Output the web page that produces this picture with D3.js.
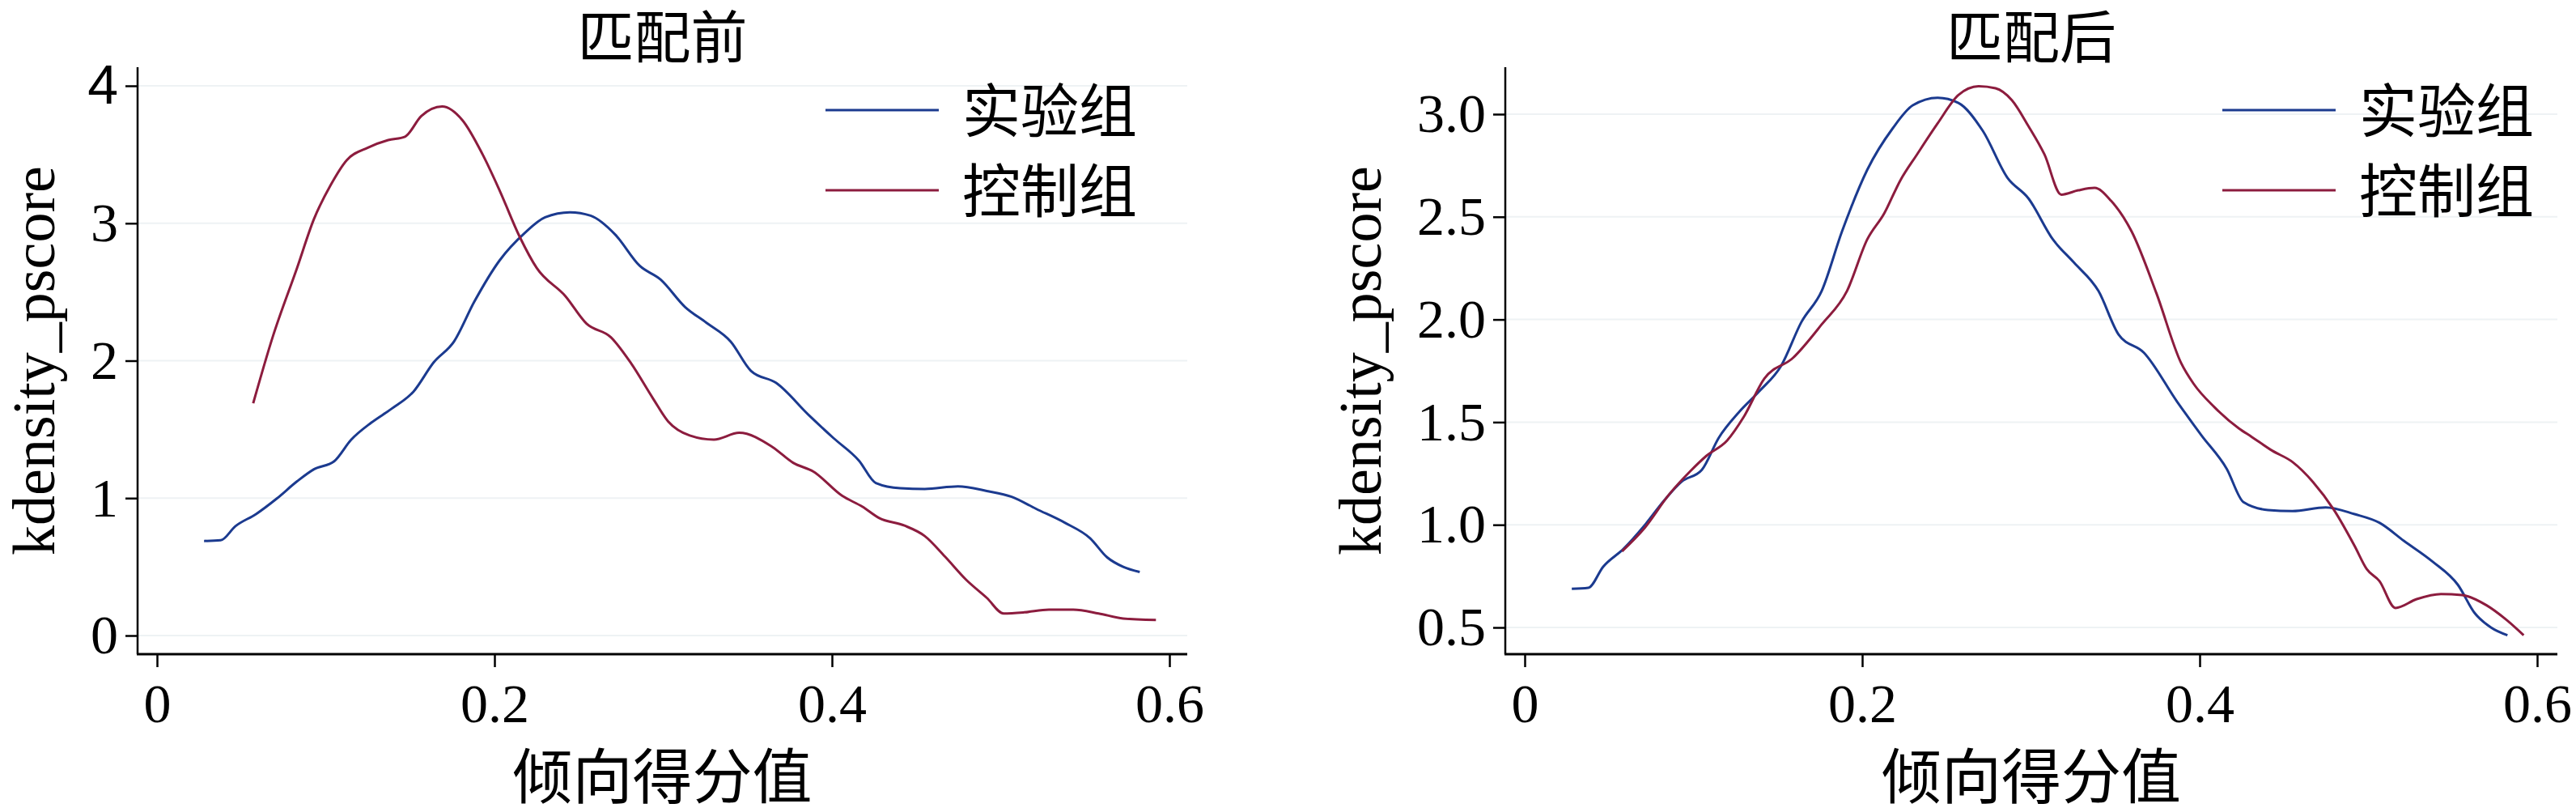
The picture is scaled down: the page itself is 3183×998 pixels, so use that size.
<!DOCTYPE html>
<html>
<head>
<meta charset="utf-8">
<script src="https://cdn.jsdelivr.net/npm/d3@7"></script>
<style>
  body { margin: 0; background: #fff; }
  svg { display: block; }
</style>
</head>
<body>
<svg id="chart" width="3183" height="998"></svg>
<script>
// treatment group density (same curve in both panels)
var treatX = [0.0279, 0.0377, 0.0465, 0.0587, 0.071, 0.083, 0.093, 0.105, 0.115, 0.127, 0.139, 0.152, 0.164, 0.176, 0.188, 0.203, 0.218, 0.230, 0.2447, 0.257, 0.2716, 0.286, 0.2985, 0.313, 0.3255, 0.340, 0.352, 0.367, 0.3866, 0.401, 0.416, 0.426, 0.4405, 0.455, 0.4747, 0.4918, 0.5065, 0.521, 0.538, 0.553, 0.563, 0.5726, 0.5824];
var treatY = [0.688, 0.693, 0.796, 0.884, 0.997, 1.122, 1.21, 1.268, 1.424, 1.549, 1.65, 1.775, 1.988, 2.139, 2.428, 2.729, 2.93, 3.043, 3.08, 3.055, 2.917, 2.691, 2.59, 2.39, 2.277, 2.139, 1.926, 1.838, 1.60, 1.436, 1.273, 1.11, 1.072, 1.067, 1.085, 1.052, 1.01, 0.922, 0.821, 0.708, 0.57, 0.50, 0.462];

// control group before matching
var ctrlBeforeX = [0.057, 0.0685, 0.083, 0.093, 0.103, 0.1125, 0.125, 0.137, 0.147, 0.1566, 0.169, 0.181, 0.193, 0.203, 0.215, 0.225, 0.242, 0.2545, 0.269, 0.281, 0.2937, 0.303, 0.3157, 0.330, 0.345, 0.3646, 0.377, 0.389, 0.406, 0.418, 0.428, 0.443, 0.455, 0.467, 0.4796, 0.4918, 0.5017, 0.514, 0.5286, 0.543, 0.558, 0.5726, 0.592];
var ctrlBeforeY = [1.69, 2.17, 2.675, 3.03, 3.28, 3.46, 3.55, 3.605, 3.63, 3.78, 3.85, 3.75, 3.50, 3.24, 2.90, 2.675, 2.47, 2.27, 2.17, 1.98, 1.73, 1.557, 1.456, 1.426, 1.475, 1.373, 1.257, 1.193, 1.017, 0.938, 0.855, 0.80, 0.724, 0.574, 0.405, 0.274, 0.161, 0.169, 0.188, 0.188, 0.161, 0.124, 0.113];

// control group after matching
var ctrlAfterX = [0.0577, 0.071, 0.0856, 0.098, 0.1077, 0.12, 0.1297, 0.142, 0.159, 0.176, 0.191, 0.203, 0.213, 0.2227, 0.2325, 0.2447, 0.257, 0.269, 0.279, 0.2887, 0.2985, 0.308, 0.318, 0.328, 0.3377, 0.3475, 0.3597, 0.3744, 0.389, 0.3964, 0.4086, 0.4233, 0.4307, 0.443, 0.455, 0.467, 0.4796, 0.4918, 0.499, 0.5065, 0.516, 0.5286, 0.543, 0.5555, 0.570, 0.5824, 0.592];
var ctrlAfterY = [0.871, 0.984, 1.148, 1.26, 1.336, 1.411, 1.524, 1.712, 1.813, 1.976, 2.139, 2.39, 2.516, 2.679, 2.804, 2.955, 3.093, 3.136, 3.126, 3.068, 2.942, 2.804, 2.608, 2.629, 2.641, 2.578, 2.428, 2.127, 1.788, 1.687, 1.574, 1.469, 1.429, 1.361, 1.306, 1.21, 1.072, 0.897, 0.784, 0.726, 0.595, 0.638, 0.663, 0.658, 0.608, 0.533, 0.462];

var xTicks = [0, 0.2, 0.4, 0.6];
var beforeYTicks = [0, 1, 2, 3, 4];
var afterYTicks = [0.5, 1.0, 1.5, 2.0, 2.5, 3.0];
var titles = ['匹配前', '匹配后'];
var groupNames = ['实验组', '控制组'];
var xTitle = '倾向得分值';
var yTitle = 'kdensity_pscore';

var colors = ['#1b3a8f', '#8c1c3e'];
var serif = "'Liberation Serif', 'Times New Roman', serif";
var cjk = "'Noto Sans CJK SC', sans-serif";

function pairs(xs, ys) {
    return xs.map(function(d, i) { return [d, ys[i]]; });
}

var svg = d3.select('#chart');

function panel(opt) {
    var g = svg.append('g');
    var left = opt.left, right = opt.right, top = 83, bottom = 808;

    var x = d3.scaleLinear().domain([0, 0.6]).range([opt.x0, opt.x1]);
    var y = d3.scaleLinear().domain(opt.yDomain).range(opt.yRange);

    // faint gridlines
    g.selectAll('.grid')
        .data(opt.yTicks)
        .enter()
        .append('line')
            .attr('x1', left).attr('x2', right)
            .attr('y1', function(d) { return y(d); })
            .attr('y2', function(d) { return y(d); })
            .attr('stroke', '#eef2f4')
            .attr('stroke-width', 2);

    // y axis
    var yAxis = g.append('g')
        .attr('transform', 'translate(' + left + ',0)')
        .call(d3.axisLeft(y).tickValues(opt.yTicks).tickSize(15).tickPadding(9)
            .tickFormat(opt.yFormat));
    yAxis.select('.domain').remove();
    yAxis.selectAll('line').attr('stroke', '#000').attr('stroke-width', 2.5);
    yAxis.selectAll('text')
        .style('font-family', function(d) { return d === 4 ? "'Liberation Sans', Arial, sans-serif" : serif; })
        .style('font-size', '68px')
        .attr('fill', '#000');

    // x axis
    var xAxis = g.append('g')
        .attr('transform', 'translate(0,' + bottom + ')')
        .call(d3.axisBottom(x).tickValues(xTicks).tickSize(16).tickPadding(20)
            .tickFormat(function(d) { return d === 0 ? '0' : d3.format('.1f')(d); }));
    xAxis.select('.domain').remove();
    xAxis.selectAll('line').attr('stroke', '#000').attr('stroke-width', 2.5);
    xAxis.selectAll('text')
        .style('font-family', serif)
        .style('font-size', '68px')
        .attr('fill', '#000');

    // axis lines
    g.append('line')
        .attr('x1', left).attr('x2', left).attr('y1', top).attr('y2', bottom)
        .attr('stroke', '#000').attr('stroke-width', 2.5);
    g.append('line')
        .attr('x1', left - 1).attr('x2', right).attr('y1', bottom).attr('y2', bottom)
        .attr('stroke', '#000').attr('stroke-width', 3);

    // curves
    var line = d3.line()
        .x(function(d) { return x(d[0]); })
        .y(function(d) { return y(d[1]); })
        .curve(d3.curveMonotoneX);

    opt.series.forEach(function(s, i) {
        g.append('path')
            .datum(s)
            .attr('d', line)
            .attr('fill', 'none')
            .attr('stroke', colors[i])
            .attr('stroke-width', 3);
    });

    // titles
    var cx = (left + right) / 2;
    g.append('text')
        .text(opt.title)
        .attr('x', cx).attr('y', 72)
        .attr('text-anchor', 'middle')
        .style('font-family', cjk)
        .style('font-size', '70px');

    g.append('text')
        .text(xTitle)
        .attr('x', cx).attr('y', 986)
        .attr('text-anchor', 'middle')
        .style('font-family', cjk)
        .style('font-size', '74px');

    g.append('text')
        .text(yTitle)
        .attr('transform', 'translate(' + opt.yTitleX + ',' + ((top + bottom) / 2) + ') rotate(-90)')
        .attr('text-anchor', 'middle')
        .attr('dy', '0.35em')
        .style('font-family', serif)
        .style('font-size', '74px');

    // legend
    var legendY = [136, 235];
    groupNames.forEach(function(name, i) {
        g.append('line')
            .attr('x1', opt.legendX).attr('x2', opt.legendX + 140)
            .attr('y1', legendY[i]).attr('y2', legendY[i])
            .attr('stroke', colors[i])
            .attr('stroke-width', 3);
        g.append('text')
            .text(name)
            .attr('x', opt.legendX + 169)
            .attr('y', legendY[i] + 27)
            .style('font-family', cjk)
            .style('font-size', '72px');
    });
}

panel({
    left: 170, right: 1467,
    x0: 194, x1: 1445,
    yDomain: [0, 4], yRange: [785, 106],
    yTicks: beforeYTicks,
    yFormat: d3.format('d'),
    yTitleX: 41,
    legendX: 1020,
    title: titles[0],
    series: [pairs(treatX, treatY), pairs(ctrlBeforeX, ctrlBeforeY)]
});

panel({
    left: 1860, right: 3160,
    x0: 1884, x1: 3135,
    yDomain: [0.5, 3.0], yRange: [775, 141],
    yTicks: afterYTicks,
    yFormat: d3.format('.1f'),
    yTitleX: 1680,
    legendX: 2746,
    title: titles[1],
    series: [pairs(treatX, treatY), pairs(ctrlAfterX, ctrlAfterY)]
});
</script>
</body>
</html>
